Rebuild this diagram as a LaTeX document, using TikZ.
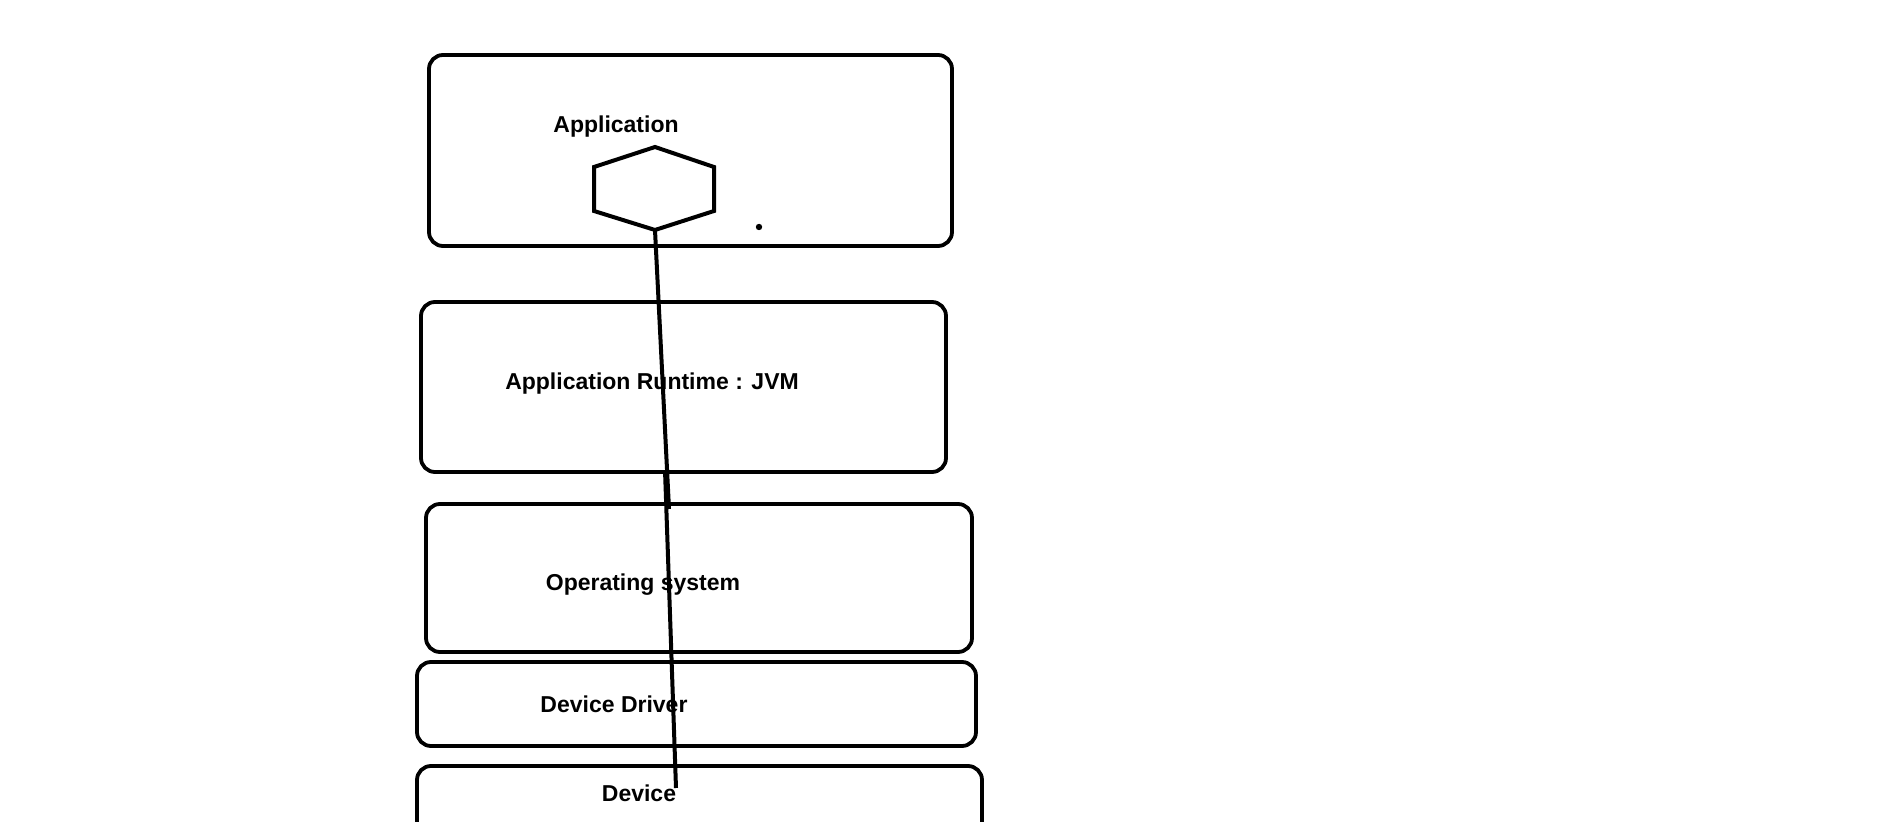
\documentclass[tikz,border=0pt]{standalone}
\usepackage{fontspec}
\setmainfont{Liberation Sans}
\usepackage{tikz}

\tikzset{
    layer/.style={draw=black, line width=1.9pt, rounded corners=7pt, inner sep=0pt},
    layertext/.style={font=\fontsize{11.5}{13}\selectfont\bfseries, inner sep=0pt},
    wire/.style={black, line width=2pt}
}

\begin{document}
\begin{tikzpicture}[x=0.5pt,y=-0.5pt]
            \useasboundingbox (0,0) rectangle (1901,822);
            \clip (0,0) rectangle (1901,822);

            \node[layer, minimum width=261.5pt, minimum height=95.5pt] (app) at (690.5,150.5) {};
            \node[layer, minimum width=262.5pt, minimum height=85pt] (jvm) at (683.5,387) {};
            \node[layer, minimum width=273pt, minimum height=74pt] (os) at (699,578) {};
            \node[layer, minimum width=279.5pt, minimum height=42pt] (drv) at (696.5,704) {};
            \node[layer, minimum width=282.5pt, minimum height=67pt] (dev) at (699.5,833) {};

            \node[layertext] (apptext) at (616,127) {Application};
            \node[layertext] (jvmtext) at (652,384) {Application Runtime : JVM};
            \node[layertext] (ostext) at (643,585) {Operating system};
            \node[layertext] (drvtext) at (614,704) {Device Driver};
            \node[layertext] (devtext) at (639,793) {Device};

            % hexagon
            \coordinate (hext) at (655,147);
            \coordinate (hexur) at (714,167);
            \coordinate (hexlr) at (714,211);
            \coordinate (hexb) at (655,230);
            \coordinate (hexll) at (594,211);
            \coordinate (hexul) at (594,167);
            \draw[black, line width=2pt, line join=miter]
                (hext) -- (hexur) -- (hexlr) -- (hexb) -- (hexll) -- (hexul) -- cycle;
            \fill[black] (759,227) circle (1.6pt);

            \coordinate (mida) at (669,509);
            \coordinate (midb) at (665,470);
            \coordinate (devend) at (676,788);
            \draw[wire] (hexb) -- (mida);
            \draw[wire] (midb) -- (devend);
        \end{tikzpicture}
\end{document}
